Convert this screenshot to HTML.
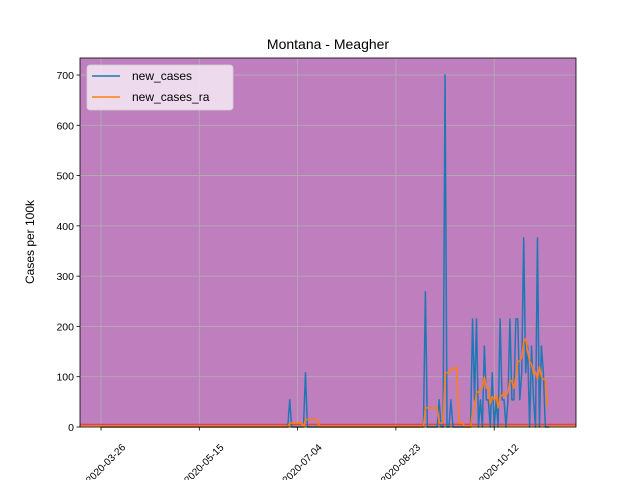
<!DOCTYPE html>
<html><head><meta charset="utf-8">
<style>
body{margin:0;background:#fff;}
svg{display:block;font-family:"Liberation Sans","DejaVu Sans",sans-serif;}
</style></head>
<body>
<svg id="chart" width="640" height="480" viewBox="0 0 640 480"></svg>
<script>
// ---- data ----
const startDate = "2020-03-26";
const endDate = "2020-11-09";
const caseDates = ["2020-06-30","2020-07-08","2020-09-07","2020-09-14","2020-09-17","2020-09-20",
 "2020-10-01","2020-10-02","2020-10-03","2020-10-05","2020-10-07","2020-10-08","2020-10-09","2020-10-11",
 "2020-10-13","2020-10-15","2020-10-16","2020-10-17","2020-10-19","2020-10-20","2020-10-21","2020-10-22",
 "2020-10-23","2020-10-24","2020-10-25","2020-10-26","2020-10-27","2020-10-28","2020-10-29","2020-10-31",
 "2020-11-01","2020-11-03","2020-11-05","2020-11-06"];
const caseValues = [54,108,269,54,700,54,
 215,54,215,54,161,54,54,108,
 54,215,54,54,54,215,54,54,
 215,215,54,108,376,108,161,161,
 54,376,161,108];
const raDates = ["2020-06-30","2020-07-01","2020-07-02","2020-07-03","2020-07-04","2020-07-05","2020-07-06",
 "2020-07-08","2020-07-09","2020-07-10","2020-07-11","2020-07-12","2020-07-13","2020-07-14",
 "2020-09-07","2020-09-08","2020-09-09","2020-09-10","2020-09-11","2020-09-12","2020-09-13",
 "2020-09-14","2020-09-15","2020-09-16","2020-09-17","2020-09-18","2020-09-19","2020-09-20","2020-09-21","2020-09-22","2020-09-23",
 "2020-09-24","2020-09-25","2020-09-26",
 "2020-10-01","2020-10-02","2020-10-03","2020-10-04","2020-10-05","2020-10-06","2020-10-07","2020-10-08","2020-10-09","2020-10-10",
 "2020-10-11","2020-10-12","2020-10-13","2020-10-14","2020-10-15","2020-10-16","2020-10-17","2020-10-18","2020-10-19","2020-10-20",
 "2020-10-21","2020-10-22","2020-10-23","2020-10-24","2020-10-25","2020-10-26","2020-10-27","2020-10-28","2020-10-29","2020-10-30",
 "2020-10-31","2020-11-01","2020-11-02","2020-11-03","2020-11-04","2020-11-05","2020-11-06","2020-11-07","2020-11-08"];
const raValues = [8,8,8,8,8,8,8,
 15,15,15,15,15,15,15,
 38,38,38,38,38,38,38,
 8,8,8,108,108,108,116,116,116,120,
 8,8,8,
 31,38,69,69,77,77,100,77,77,46,
 61,54,62,38,62,62,69,61,69,92,
 92,77,100,131,131,138,169,176,150,131,
 125,105,110,95,120,100,95,95,40];
const yTicks = [0,100,200,300,400,500,600,700];
const xTickLabels = ["2020-03-26","2020-05-15","2020-07-04","2020-08-23","2020-10-12"];

// ---- layout ----
const L=80,R=576,T=58,B=427;
const DAY=86400000;
const d0=Date.parse("2020-03-26");
function dayIdx(s){return Math.round((Date.parse(s)-d0)/DAY);}
function xs(s){return 101+dayIdx(s)*1.966;}
function xd(i){return 101+i*1.966;}
function ys(v){return B-v*(352/700);}
const NS="http://www.w3.org/2000/svg";
const svg=document.getElementById('chart');
function el(t,a,p){const e=document.createElementNS(NS,t);for(const k in a)e.setAttribute(k,a[k]);(p||svg).appendChild(e);return e;}

el('rect',{x:L,y:T,width:R-L,height:B-T,fill:'#bf7fbf'});
const grid=el('g',{});


yTicks.forEach(v=>{el('line',{x1:L,x2:R,y1:ys(v),y2:ys(v),stroke:'#b0b0b0','stroke-width':0.8},grid);});
xTickLabels.forEach(s=>{el('line',{x1:xs(s),x2:xs(s),y1:T,y2:B,stroke:'#b0b0b0','stroke-width':0.8},grid);});

const hl1=el('line',{x1:L,x2:R,y1:424.5,y2:424.5,stroke:'#e8403a','stroke-width':1.5});


const hl2=el('line',{x1:L,x2:R,y1:426.5,y2:426.5,stroke:'#f5a623','stroke-width':1.5});



const n=dayIdx(endDate);
const cmap={};caseDates.forEach((d,i)=>cmap[dayIdx(d)]=caseValues[i]);
const rmap={};raDates.forEach((d,i)=>rmap[dayIdx(d)]=raValues[i]);
let pc=[],pr=[];
for(let i=0;i<=n;i++){pc.push(xd(i).toFixed(2)+','+ys(cmap[i]||0).toFixed(2));}
for(let i=0;i<=n-1;i++){pr.push(xd(i).toFixed(2)+','+ys(rmap[i]||0).toFixed(2));}
const s1=el('polyline',{points:pc.join(' '),fill:'none',stroke:'#1f77b4','stroke-width':1.5,'stroke-linejoin':'round'});


const s2=el('polyline',{points:pr.join(' '),fill:'none',stroke:'#ff7f0e','stroke-width':1.5,'stroke-linejoin':'round'});



el('rect',{x:L,y:T,width:R-L,height:B-T,fill:'none',stroke:'#000','stroke-width':0.8});

yTicks.forEach(v=>{
  el('line',{x1:L-3.5,x2:L,y1:ys(v),y2:ys(v),stroke:'#000','stroke-width':0.8});
  const t=el('text',{x:L-6,y:ys(v)+4,'text-anchor':'end','font-size':10.5,fill:'#000'});t.textContent=v;
  
  
});
xTickLabels.forEach(s=>{
  const x=xs(s);
  el('line',{x1:x,x2:x,y1:B,y2:B+3.5,stroke:'#000','stroke-width':0.8});
  const ax=x+25, ay=B+21;
  const t=el('text',{x:ax,y:ay,'text-anchor':'end','font-size':10,fill:'#000',transform:`rotate(-45 ${ax} ${ay})`});t.textContent=s;
  
  
});

const ti=el('text',{x:328,y:49,'text-anchor':'middle','font-size':14,fill:'#000'});ti.textContent='Montana - Meagher';


const yl=el('text',{x:34,y:242,'text-anchor':'middle','font-size':12,fill:'#000',transform:'rotate(-90 34 242)'});yl.textContent='Cases per 100k';



const lg=el('g',{});


el('rect',{x:87,y:65,width:146,height:45,rx:3,fill:'#f2e5f2','fill-opacity':0.9,stroke:'#d0d0d0','stroke-width':0.8},lg);
el('line',{x1:92,x2:120,y1:76,y2:76,stroke:'#1f77b4','stroke-width':1.5},lg);
el('line',{x1:92,x2:120,y1:97,y2:97,stroke:'#ff7f0e','stroke-width':1.5},lg);
const l1=el('text',{x:132,y:80,'font-size':12,fill:'#000'},lg);l1.textContent='new_cases';


const l2=el('text',{x:132,y:101,'font-size':12,fill:'#000'},lg);l2.textContent='new_cases_ra';


</script>
</body></html>
